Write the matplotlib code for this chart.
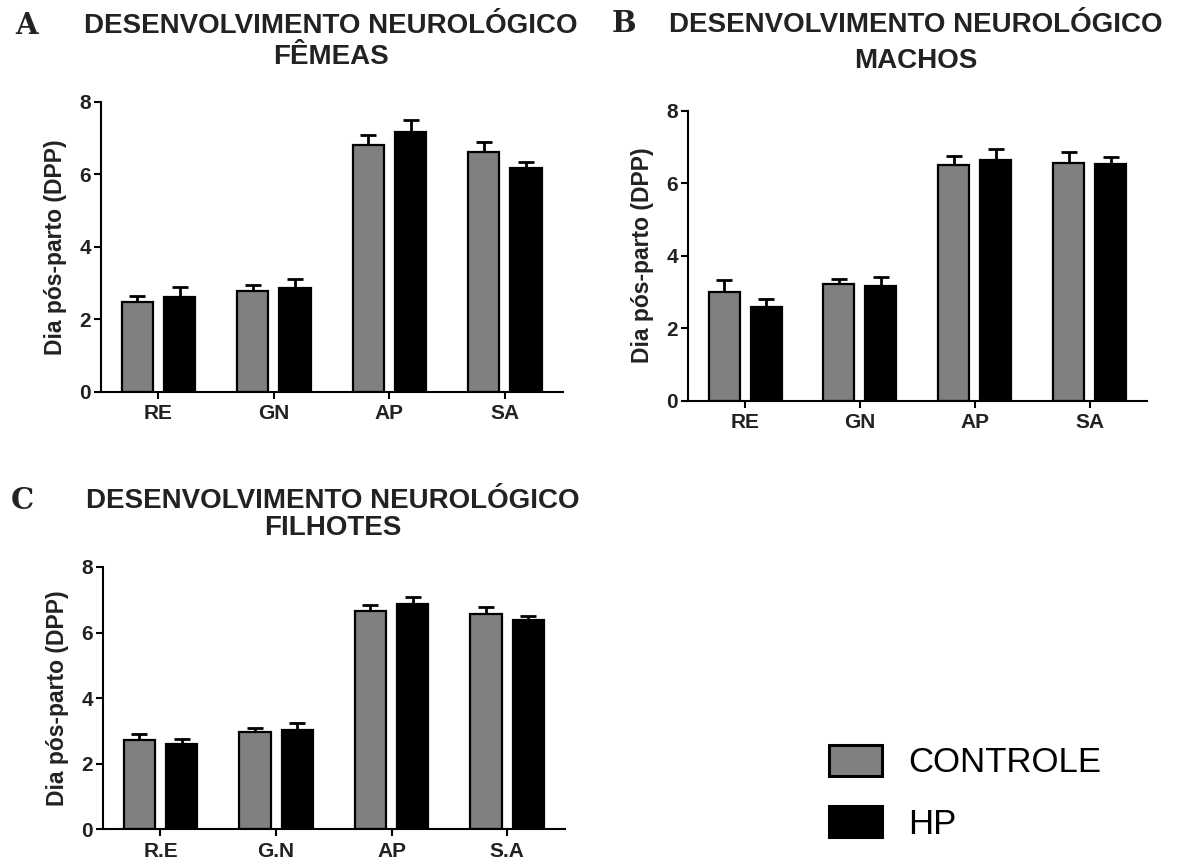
import numpy as np
import matplotlib
matplotlib.use("Agg")
import matplotlib.pyplot as plt
from matplotlib.patches import Patch

# data (mean, upper error)
groups_ab = ["RE", "GN", "AP", "SA"]
groups_c = ["R.E", "G.N", "AP", "S.A"]

femeas_ctrl = [2.47, 2.77, 6.81, 6.60]
femeas_ctrl_err = [0.18, 0.18, 0.27, 0.28]
femeas_hp = [2.60, 2.86, 7.16, 6.17]
femeas_hp_err = [0.30, 0.24, 0.34, 0.18]

machos_ctrl = [3.01, 3.22, 6.49, 6.55]
machos_ctrl_err = [0.33, 0.14, 0.27, 0.30]
machos_hp = [2.58, 3.16, 6.65, 6.53]
machos_hp_err = [0.23, 0.24, 0.29, 0.20]

filhotes_ctrl = [2.73, 2.96, 6.65, 6.57]
filhotes_ctrl_err = [0.18, 0.13, 0.19, 0.21]
filhotes_hp = [2.59, 3.03, 6.88, 6.37]
filhotes_hp_err = [0.17, 0.21, 0.20, 0.13]

GRAY = "#808080"
plt.rcParams["font.family"] = "Liberation Sans"


def draw_panel(ax, labels, ctrl, ctrl_err, hp, hp_err):
    x = np.arange(len(labels))
    w = 0.27
    off = 0.183
    for xs, vals, errs, col in [(x - off, ctrl, ctrl_err, GRAY), (x + off, hp, hp_err, "black")]:
        ax.bar(xs, vals, width=w, color=col, edgecolor="black", linewidth=1.6, zorder=2)
        ax.errorbar(xs, vals, yerr=[np.zeros(len(vals)), errs], fmt="none",
                    ecolor="black", elinewidth=2, capsize=5.5, capthick=2, zorder=1)
    ax.set_xlim(-0.5, 3.5)
    ax.set_ylim(0, 8)
    ax.set_yticks([0, 2, 4, 6, 8])
    ax.set_xticks(x)
    ax.set_xticklabels(labels, fontsize=15, fontweight="bold", color="#222222")
    for t in ax.get_yticklabels():
        t.set_fontsize(15)
        t.set_fontweight("bold")
        t.set_color("#222222")
    ax.spines["top"].set_visible(False)
    ax.spines["right"].set_visible(False)
    ax.spines["left"].set_linewidth(1.5)
    ax.spines["bottom"].set_linewidth(1.5)
    ax.tick_params(direction="out", length=5, width=1.5, pad=2)
    ax.tick_params(axis="x", pad=4)
    ax.set_ylabel("Dia pós-parto (DPP)", fontsize=16.5, fontweight="bold",
                  color="#222222", labelpad=9)


fig = plt.figure(figsize=(11.9, 8.59), dpi=100)
W = 1190.0
H = 859.0

ax_a = fig.add_axes([0.0846, 0.5440, 0.3882, 0.3376])
ax_b = fig.add_axes([0.5779, 0.5335, 0.3860, 0.3378])
ax_c = fig.add_axes([0.0863, 0.0346, 0.3885, 0.3054])

draw_panel(ax_a, groups_ab, femeas_ctrl, femeas_ctrl_err, femeas_hp, femeas_hp_err)
draw_panel(ax_b, groups_ab, machos_ctrl, machos_ctrl_err, machos_hp, machos_hp_err)
draw_panel(ax_c, groups_c, filhotes_ctrl, filhotes_ctrl_err, filhotes_hp, filhotes_hp_err)

# titles and panel letters (pixel positions)
titles = [
    (331, 26, 57, "FÊMEAS", "A", 27, 25),
    (916, 25, 61, "MACHOS", "B", 624, 24),
    (333, 501, 528, "FILHOTES", "C", 22, 500),
]
for cx, y1, y2, sub, letter, lx, ly in titles:
    fig.text(cx / W, 1 - y1 / H, "DESENVOLVIMENTO NEUROLÓGICO", ha="center", va="center",
             fontsize=20, fontweight="bold", color="#222222")
    fig.text(cx / W, 1 - y2 / H, sub, ha="center", va="center", fontsize=20,
             fontweight="bold", color="#222222")
    fig.text(lx / W, 1 - ly / H, letter, ha="center", va="center", fontsize=21,
             fontweight="bold", family="DejaVu Serif", color="#222222")

handles = [Patch(facecolor=GRAY, edgecolor="black", linewidth=2.2),
           Patch(facecolor="black", edgecolor="black", linewidth=2.2)]
fig.legend(handles, ["CONTROLE", "HP"], loc="upper left",
           bbox_to_anchor=(829 / W, 1 - 745 / H), frameon=False,
           prop={"size": 25}, handlelength=1.53, handleheight=1.0,
           handletextpad=0.74, labelspacing=0.77, borderpad=0, borderaxespad=0)

fig.savefig("out.png", dpi=100)
